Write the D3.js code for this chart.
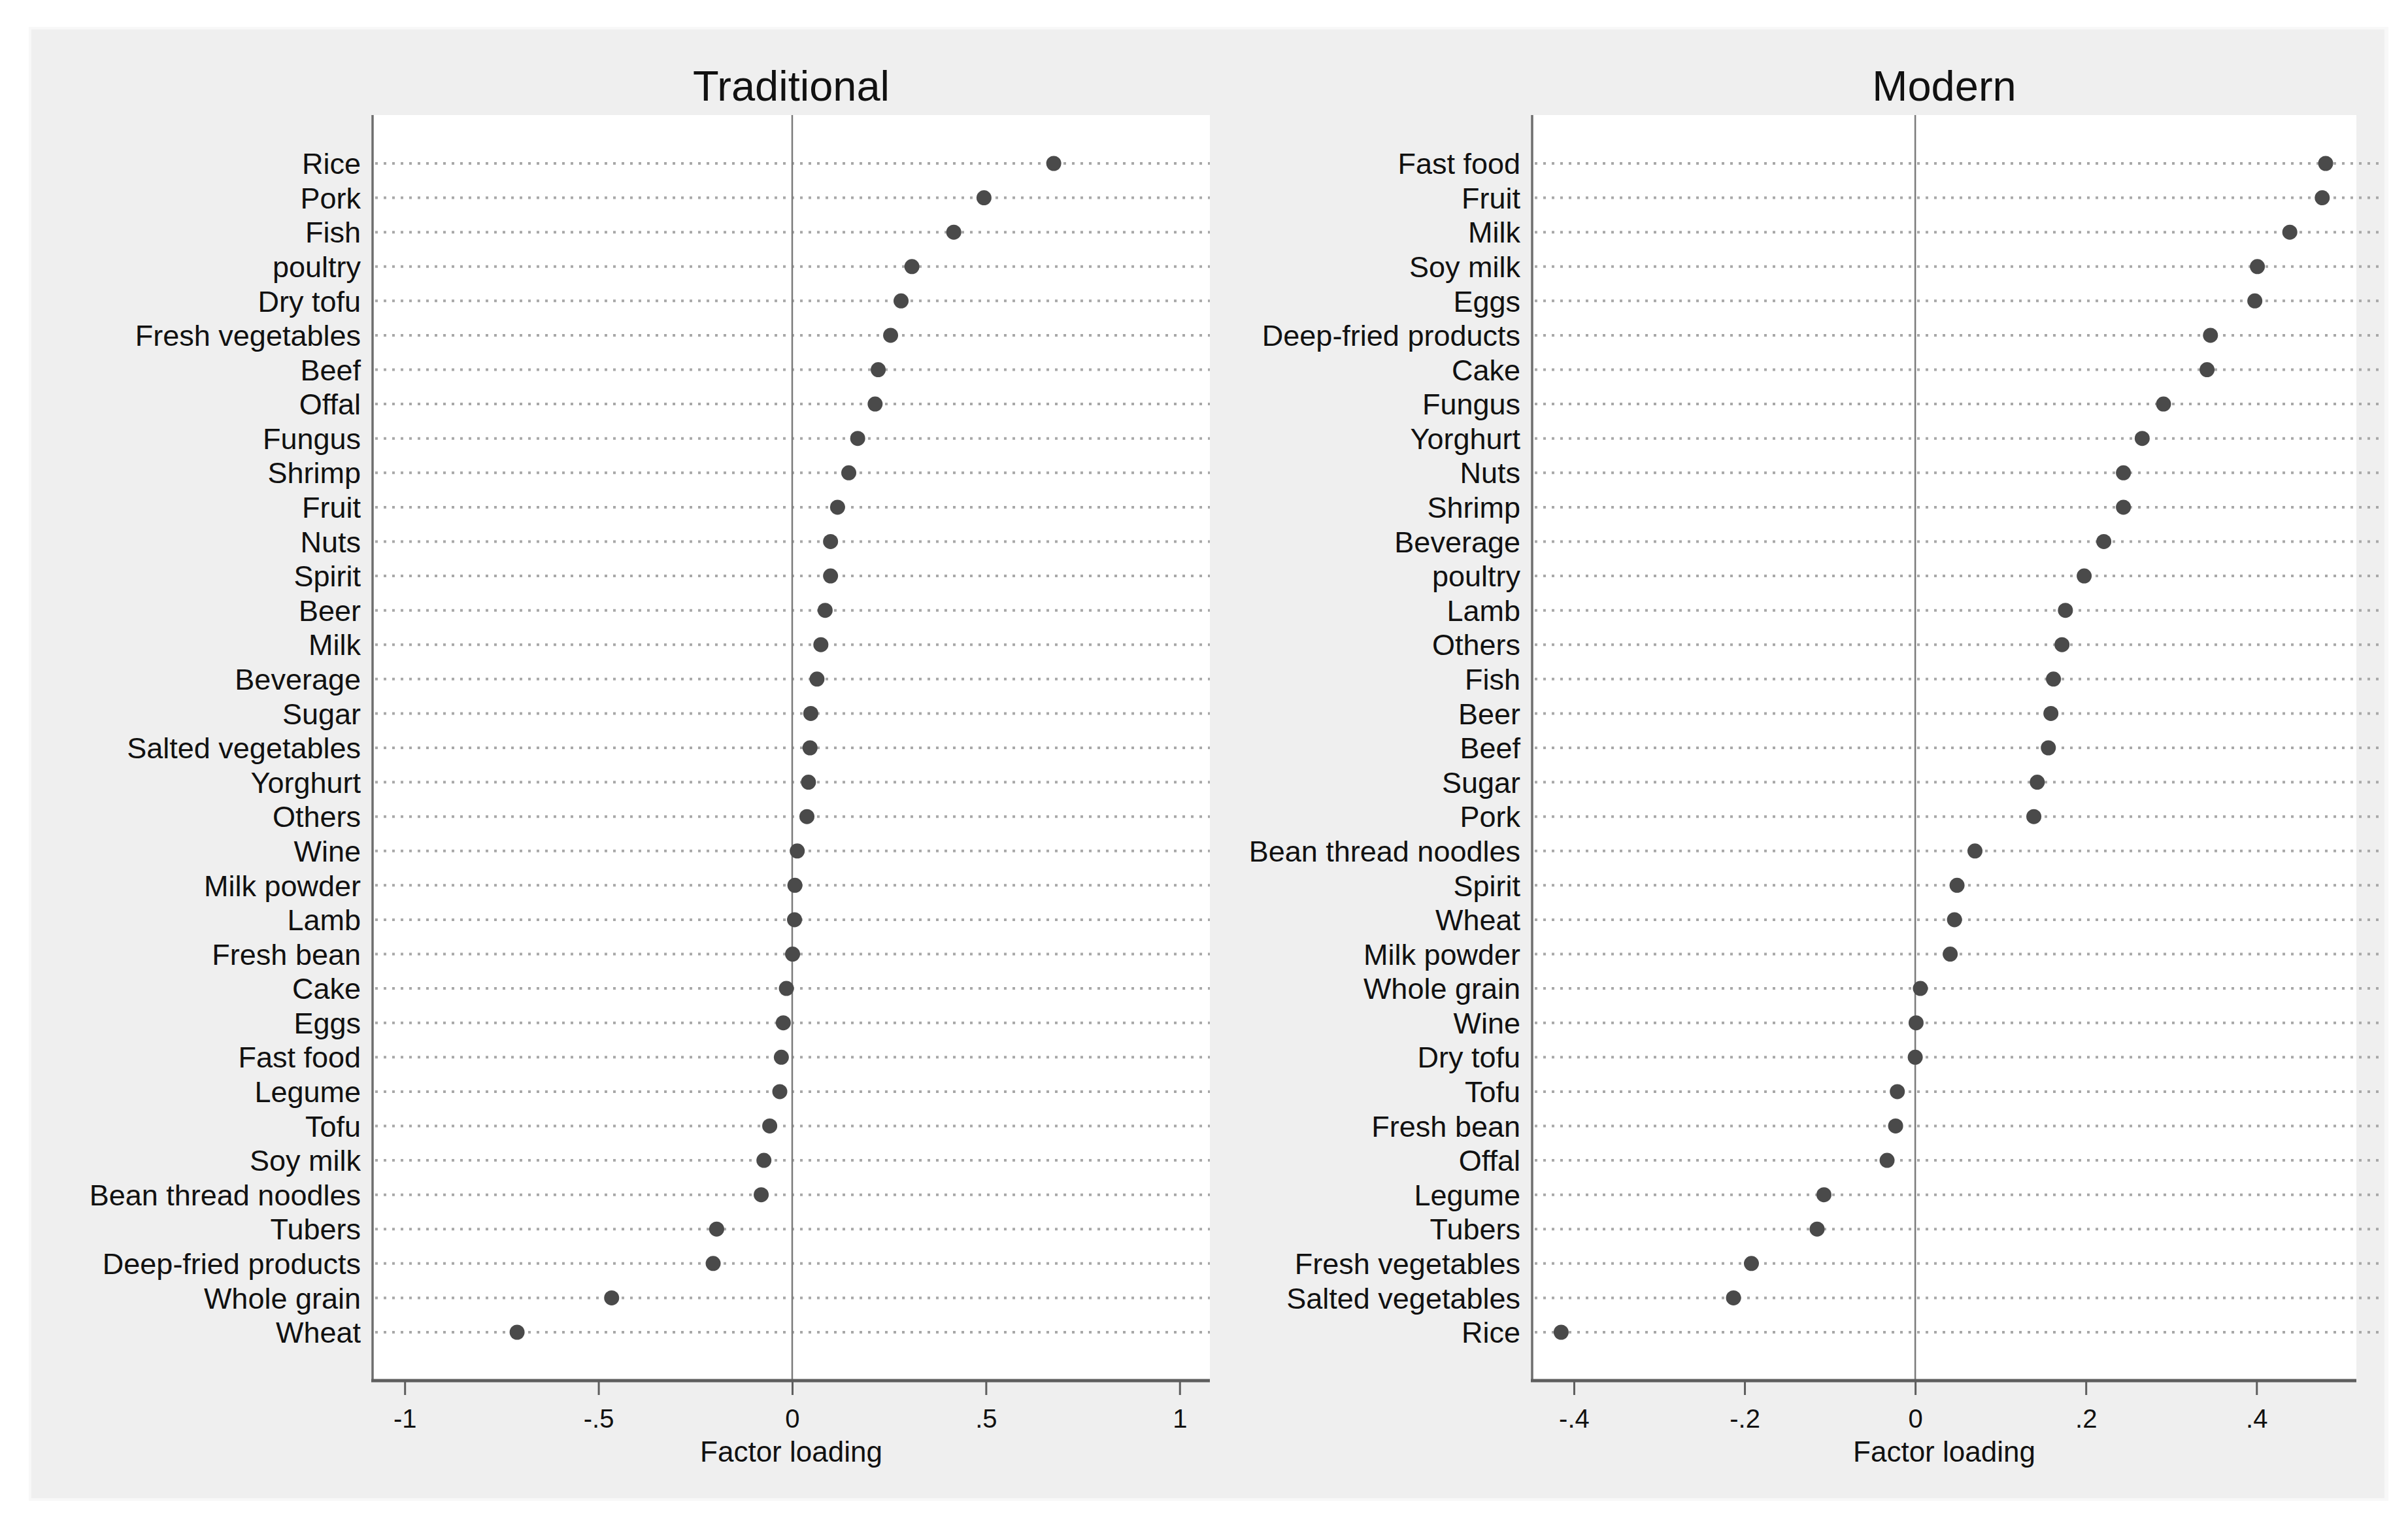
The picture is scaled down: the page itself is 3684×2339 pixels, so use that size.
<!DOCTYPE html>
<html>
<head>
<meta charset="utf-8">
<script src="https://cdn.jsdelivr.net/npm/d3@7"></script>
<style>
  html, body { margin: 0; padding: 0; background: #fff; }
  text { font-family: "Liberation Sans", Arial, sans-serif; fill: #111; }
</style>
</head>
<body>
<svg id="chart" width="3684" height="2339"></svg>
<script>
// Traditional factor
var tradFoods = ['Rice', 'Pork', 'Fish', 'poultry', 'Dry tofu', 'Fresh vegetables', 'Beef', 'Offal',
    'Fungus', 'Shrimp', 'Fruit', 'Nuts', 'Spirit', 'Beer', 'Milk', 'Beverage', 'Sugar',
    'Salted vegetables', 'Yorghurt', 'Others', 'Wine', 'Milk powder', 'Lamb', 'Fresh bean',
    'Cake', 'Eggs', 'Fast food', 'Legume', 'Tofu', 'Soy milk', 'Bean thread noodles',
    'Tubers', 'Deep-fried products', 'Whole grain', 'Wheat'];
var tradLoadings = [0.675, 0.495, 0.417, 0.309, 0.281, 0.254, 0.222, 0.214,
    0.169, 0.146, 0.117, 0.099, 0.099, 0.085, 0.074, 0.064, 0.048,
    0.046, 0.042, 0.038, 0.013, 0.007, 0.006, 0.001,
    -0.015, -0.023, -0.028, -0.032, -0.058, -0.073, -0.080,
    -0.195, -0.204, -0.466, -0.710];
var tradTicks = [-1, -0.5, 0, 0.5, 1];
var tradTickLabels = ['-1', '-.5', '0', '.5', '1'];

// Modern factor
var modFoods = ['Fast food', 'Fruit', 'Milk', 'Soy milk', 'Eggs', 'Deep-fried products', 'Cake',
    'Fungus', 'Yorghurt', 'Nuts', 'Shrimp', 'Beverage', 'poultry', 'Lamb', 'Others', 'Fish',
    'Beer', 'Beef', 'Sugar', 'Pork', 'Bean thread noodles', 'Spirit', 'Wheat', 'Milk powder',
    'Whole grain', 'Wine', 'Dry tofu', 'Tofu', 'Fresh bean', 'Offal', 'Legume', 'Tubers',
    'Fresh vegetables', 'Salted vegetables', 'Rice'];
var modLoadings = [0.481, 0.477, 0.439, 0.401, 0.398, 0.346, 0.342,
    0.291, 0.266, 0.244, 0.244, 0.221, 0.198, 0.176, 0.172, 0.162,
    0.159, 0.156, 0.143, 0.139, 0.070, 0.049, 0.046, 0.041,
    0.006, 0.001, 0.000, -0.021, -0.023, -0.033, -0.107, -0.115,
    -0.192, -0.213, -0.415];
var modTicks = [-0.4, -0.2, 0, 0.2, 0.4];
var modTickLabels = ['-.4', '-.2', '0', '.2', '.4'];

var svg = d3.select('#chart');

// outer graph region
svg.append('rect')
    .attr('x', 44).attr('y', 41)
    .attr('width', 3610).attr('height', 2255)
    .attr('fill', '#f8f8f8');
svg.append('rect')
    .attr('x', 48).attr('y', 45)
    .attr('width', 3600).attr('height', 2247)
    .attr('fill', '#efefef');

var dims = {
    top: 176,
    bottom: 2112,
    firstRow: 250,
    lastRow: 2038
};

function drawPanel(opts) {
    var g = svg.append('g');
    var x = d3.scaleLinear().domain(opts.domain).range([opts.left, opts.right]);
    var y = d3.scalePoint().domain(opts.foods).range([dims.firstRow, dims.lastRow]);
    var rows = opts.foods.map(function(f, i) { return {food: f, value: opts.values[i]}; });

    g.append('rect')
        .attr('x', opts.left).attr('y', dims.top)
        .attr('width', opts.right - opts.left).attr('height', dims.bottom - dims.top)
        .attr('fill', '#fff');

    // dotted guide lines
    g.selectAll('.guide').data(rows).enter()
        .append('line')
        .attr('class', 'guide')
        .attr('x1', opts.left + 4)
        .attr('x2', opts.lineEnd)
        .attr('y1', function(d) { return y(d.food); })
        .attr('y2', function(d) { return y(d.food); })
        .attr('stroke', '#a8a8a8')
        .attr('stroke-width', 4)
        .attr('stroke-dasharray', '4,9');

    // zero line
    g.append('line')
        .attr('x1', x(0)).attr('x2', x(0))
        .attr('y1', dims.top).attr('y2', dims.bottom)
        .attr('stroke', '#7a7a7a')
        .attr('stroke-width', 2.5);

    g.selectAll('.dot').data(rows).enter()
        .append('circle')
        .attr('class', 'dot')
        .attr('cx', function(d) { return x(d.value); })
        .attr('cy', function(d) { return y(d.food); })
        .attr('r', 11.5)
        .attr('fill', '#4a4a4a');

    // category labels
    g.selectAll('.cat').data(rows).enter()
        .append('text')
        .attr('class', 'cat')
        .attr('x', opts.left - 18)
        .attr('y', function(d) { return y(d.food); })
        .attr('dy', '0.36em')
        .attr('text-anchor', 'end')
        .attr('font-size', '45px')
        .text(function(d) { return d.food; });

    // y axis line
    g.append('line')
        .attr('x1', opts.left).attr('x2', opts.left)
        .attr('y1', dims.top).attr('y2', dims.bottom)
        .attr('stroke', '#6e6e6e')
        .attr('stroke-width', 3.5);

    var axis = d3.axisBottom(x)
        .tickValues(opts.ticks)
        .tickFormat(function(d, i) { return opts.tickLabels[i]; })
        .tickSize(22)
        .tickPadding(22);
    var ax = g.append('g')
        .attr('transform', 'translate(0,' + dims.bottom + ')')
        .call(axis);
    ax.select('.domain').remove();
    ax.append('line')
        .attr('x1', opts.left - 2).attr('x2', opts.right)
        .attr('y1', 0).attr('y2', 0)
        .attr('stroke', '#5e5e5e')
        .attr('stroke-width', 5);
    ax.selectAll('.tick line')
        .attr('stroke', '#5e5e5e')
        .attr('stroke-width', 3);
    ax.selectAll('.tick text')
        .attr('font-size', '40px')
        .attr('font-family', '"Liberation Sans", Arial, sans-serif')
        .attr('fill', '#111');

    g.append('text')
        .attr('x', (opts.left + opts.right) / 2)
        .attr('y', 2236)
        .attr('text-anchor', 'middle')
        .attr('font-size', '44px')
        .text('Factor loading');

    g.append('text')
        .attr('x', (opts.left + opts.right) / 2)
        .attr('y', 154)
        .attr('text-anchor', 'middle')
        .attr('font-size', '65px')
        .text(opts.title);
}

drawPanel({
    title: 'Traditional',
    foods: tradFoods,
    values: tradLoadings,
    ticks: tradTicks,
    tickLabels: tradTickLabels,
    domain: [-1.083, 1.078],
    left: 570,
    right: 1851,
    lineEnd: 1851
});

drawPanel({
    title: 'Modern',
    foods: modFoods,
    values: modLoadings,
    ticks: modTicks,
    tickLabels: modTickLabels,
    domain: [-0.449, 0.517],
    left: 2344,
    right: 3605,
    lineEnd: 3642
});
</script>
</body>
</html>
